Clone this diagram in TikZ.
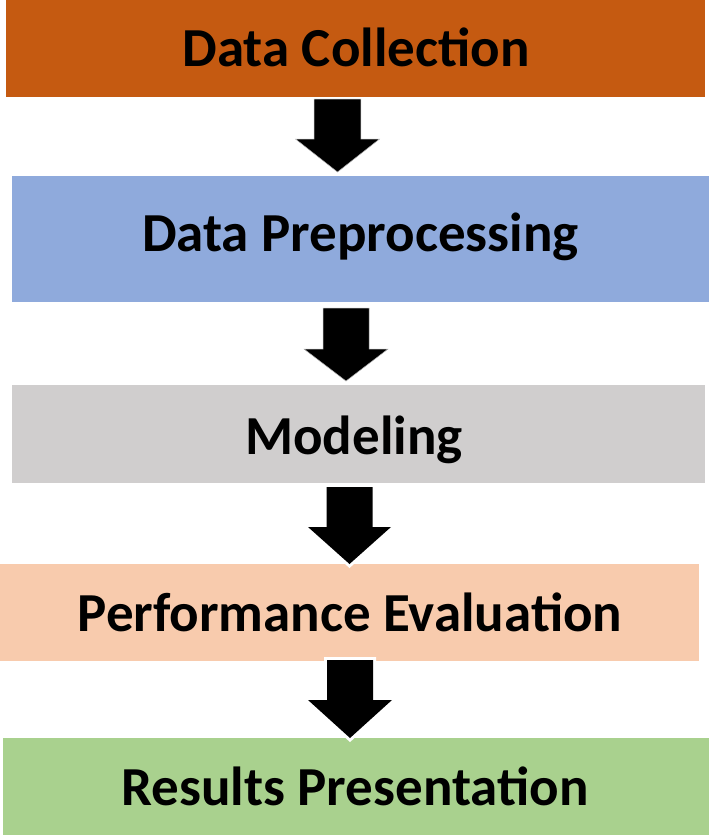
\documentclass[tikz,border=0pt]{standalone}
\usepackage{fontspec}
\setmainfont{Carlito}
\definecolor{cOrange}{HTML}{C55A11}
\definecolor{cBlue}{HTML}{8FAADC}
\definecolor{cGray}{HTML}{D0CECE}
\definecolor{cPeach}{HTML}{F8CBAD}
\definecolor{cGreen}{HTML}{A9D18E}
\newcommand\blkarrow[6]{({#1-#2},#4) -- ({#1+#2},#4) -- ({#1+#2},#5) -- ({#1+#3},#5) -- (#1,#6) -- ({#1-#3},#5) -- ({#1-#2},#5) -- cycle}
\begin{document}
\begin{tikzpicture}[x=1pt,y=-1pt,
  box/.style={draw=none,inner sep=0pt,minimum width=#1,anchor=north west},
  lbl/.style={anchor=base,inner sep=0pt,font=\fontsize{55}{62}\selectfont\bfseries},
  arr/.style={fill=black},
  arrline/.style={draw=white,line width=6pt,line join=miter}]
\useasboundingbox (0,0) rectangle (709,835);
% boxes
\node[box=699pt,fill=cOrange,minimum height=96.7pt] (b1) at (6,0) {};
\node[box=697pt,fill=cBlue,minimum height=125.7pt] (b2) at (12,176) {};
\node[box=693pt,fill=cGray,minimum height=97.5pt] (b3) at (12,385) {};
\node[box=699pt,fill=cPeach,minimum height=97.4pt] (b4) at (0,563.3) {};
\node[box=706.7pt,fill=cGreen,minimum height=97.3pt] (b5) at (2.3,737.7) {};
% labels
\node[lbl] (t1) at (356,66) {Data Collection};
\node[lbl] (t2) at (360.5,251) {Data Preprocessing};
\node[lbl] (t3) at (354,454.3) {Modeling};
\node[lbl] (t4) at (350,631) {Performance Evaluation};
\node[lbl] (t5) at (355,805) {Results Presentation};
% arrows
\path[arr,draw=gray!60,line width=0.5pt] \blkarrow{337.5}{23.3}{42}{99}{139}{172};
\path[arr,draw=gray!60,line width=0.5pt] \blkarrow{346}{23}{42}{308}{349}{381};
\path[arrline] \blkarrow{349.5}{23}{41.5}{487}{527}{564};
\path[arr] \blkarrow{349.5}{23}{41.5}{487}{527}{564};
\path[arrline] \blkarrow{350}{23}{42}{660}{700}{738};
\path[arr] \blkarrow{350}{23}{42}{660}{700}{738};
\end{tikzpicture}
\end{document}
